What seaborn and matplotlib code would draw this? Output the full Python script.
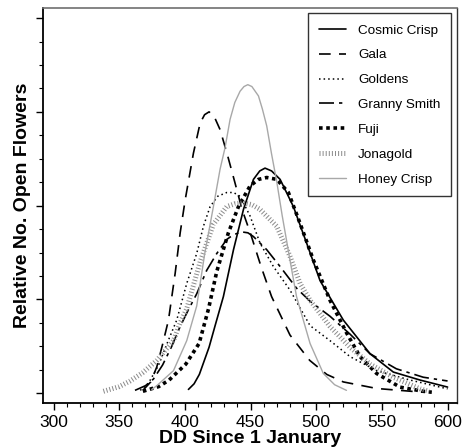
import pandas as pd
import seaborn as sns
import matplotlib.pyplot as plt
from matplotlib.ticker import MultipleLocator

# values (x = degree days, y = relative no. of open flowers)
cosmic_x = [402.7, 407, 411, 418.4, 423, 429.3, 437, 444.6, 452.2, 457, 461, 466, 472.5, 482.6, 492.7, 502.9, 520.6, 541, 558.7, 579, 600]
cosmic_y = [0.04, 0.10, 0.20, 0.49, 0.72, 1.03, 1.53, 1.96, 2.28, 2.37, 2.40, 2.37, 2.28, 1.99, 1.60, 1.20, 0.78, 0.42, 0.225, 0.14, 0.065]

gala_x = [368, 374, 378.6, 383, 387.5, 392.6, 396.4, 400.2, 406.5, 411.6, 415, 418.4, 422, 426.8, 432, 438, 443.5, 450, 458, 466, 480, 495, 508, 520.6, 546, 581]
gala_y = [0.03, 0.12, 0.28, 0.52, 0.78, 1.28, 1.71, 2.06, 2.56, 2.88, 2.97, 3.00, 2.96, 2.81, 2.56, 2.25, 1.96, 1.70, 1.35, 1.03, 0.62, 0.35, 0.20, 0.12, 0.05, 0.01]

goldens_x = [366, 372, 380, 387, 393.8, 401.4, 409, 414.1, 419.2, 425, 431.9, 437, 442, 449.6, 457.2, 467.4, 480, 495.3, 510.5, 525.7, 546, 571.4, 600]
goldens_y = [0.03, 0.10, 0.30, 0.55, 0.78, 1.17, 1.49, 1.78, 1.99, 2.10, 2.14, 2.14, 2.10, 1.89, 1.60, 1.35, 1.10, 0.72, 0.56, 0.39, 0.24, 0.14, 0.046]

granny_x = [362, 370, 376, 383, 390, 396, 402.7, 409, 416.6, 424.3, 431.9, 437, 443.3, 448, 452.2, 462.3, 472.5, 485, 495.3, 510.5, 525.7, 541, 561, 581.5, 600]
granny_y = [0.03, 0.08, 0.15, 0.30, 0.50, 0.70, 0.89, 1.06, 1.31, 1.49, 1.64, 1.69, 1.72, 1.71, 1.67, 1.53, 1.35, 1.12, 0.98, 0.82, 0.63, 0.42, 0.26, 0.17, 0.13]

fuji_x = [368, 380, 388, 400.7, 410.8, 418, 424.3, 433.1, 440.8, 449.6, 456, 462.3, 470, 478.8, 487.7, 497.8, 510.5, 523.2, 533.3, 546, 563.8, 581.5, 588]
fuji_y = [0.02, 0.07, 0.14, 0.31, 0.53, 0.90, 1.30, 1.71, 1.99, 2.21, 2.28, 2.30, 2.28, 2.14, 1.81, 1.42, 0.99, 0.64, 0.39, 0.21, 0.064, 0.02, 0.01]

jonagold_x = [338, 350, 358.3, 368, 378.6, 391.3, 396.4, 401.4, 411.6, 421.7, 431.9, 438, 444.6, 451, 457.2, 469.9, 480, 487.7, 495.3, 510.5, 525.7, 541, 558.7, 579, 586]
jonagold_y = [0.02, 0.07, 0.13, 0.22, 0.35, 0.56, 0.75, 0.90, 1.40, 1.80, 1.99, 2.02, 2.03, 2.01, 1.96, 1.78, 1.46, 1.17, 0.99, 0.71, 0.49, 0.31, 0.17, 0.046, 0.02]

honey_x = [374.8, 378.6, 391.3, 401.4, 409, 415, 421.7, 426.8, 430.6, 434.4, 438, 442, 445, 447.9, 451, 456, 459, 462.3, 466, 470, 474, 480, 485, 495.3, 505.4, 514, 523]
honey_y = [0.04, 0.08, 0.24, 0.56, 0.93, 1.48, 1.99, 2.39, 2.62, 2.92, 3.10, 3.22, 3.27, 3.29, 3.27, 3.17, 3.03, 2.85, 2.55, 2.25, 1.90, 1.42, 1.03, 0.53, 0.21, 0.09, 0.03]

cultivars = ['Cosmic Crisp', 'Gala', 'Goldens', 'Granny Smith', 'Fuji', 'Jonagold', 'Honey Crisp']
curves = {
    'Cosmic Crisp': (cosmic_x, cosmic_y),
    'Gala': (gala_x, gala_y),
    'Goldens': (goldens_x, goldens_y),
    'Granny Smith': (granny_x, granny_y),
    'Fuji': (fuji_x, fuji_y),
    'Jonagold': (jonagold_x, jonagold_y),
    'Honey Crisp': (honey_x, honey_y),
}

# line look for each cultivar: colour, width, dash pattern
styles = {
    'Cosmic Crisp': ('black', 1.2, '-'),
    'Gala': ('black', 1.2, (0, (7, 5))),
    'Goldens': ('black', 1.1, (0, (1, 2))),
    'Granny Smith': ('black', 1.2, (0, (9, 3, 2, 3))),
    'Fuji': ('black', 2.6, (0, (1, 1))),
    'Jonagold': ('#8c8c8c', 3.6, (0, (0.2, 0.42))),
    'Honey Crisp': ('#a8a8a8', 1.0, '-'),
}

sns.set_style('ticks')
plt.rcParams['font.family'] = ['Liberation Sans', 'DejaVu Sans']
plt.rcParams['text.color'] = 'black'
plt.rcParams['axes.labelcolor'] = 'black'
plt.rcParams['xtick.color'] = 'black'
plt.rcParams['ytick.color'] = 'black'

fig = plt.figure(figsize=(4.68, 4.48), dpi=100)
ax = fig.add_axes([0.092, 0.1, 0.884, 0.882])

for name in cultivars:
    xs, ys = curves[name]
    df = pd.DataFrame({'x': xs, 'y': ys})
    color, lw, ls = styles[name]
    sns.lineplot(data=df, x='x', y='y', ax=ax, color=color, linewidth=lw,
                 linestyle=ls, label=name, errorbar=None, sort=False)
    ax.lines[-1].set_dash_capstyle('butt')

ax.set_xlim(292, 607)
ax.set_ylim(-0.107, 4.107)
ax.xaxis.set_major_locator(MultipleLocator(50))
ax.xaxis.set_minor_locator(MultipleLocator(10))
ax.yaxis.set_major_locator(MultipleLocator(1))
ax.yaxis.set_minor_locator(MultipleLocator(0.25))
ax.set_yticklabels([])
ax.tick_params(which='major', direction='out', length=5, width=1, colors='black',
               labelsize=12.5, pad=3.5)
ax.tick_params(which='minor', direction='out', length=3, width=0.8, colors='black')

for side in ['left', 'bottom']:
    ax.spines[side].set_color('black')
    ax.spines[side].set_linewidth(1.3)
ax.spines['top'].set_color('#707070')
ax.spines['top'].set_linewidth(1.2)
ax.spines['right'].set_color('#333333')
ax.spines['right'].set_linewidth(1.0)

ax.set_xlabel('DD Since 1 January', fontsize=14, fontweight='bold', labelpad=0.3, color='black')
ax.set_ylabel('Relative No. Open Flowers', fontsize=14, fontweight='bold', labelpad=0.5, color='black')

leg = ax.legend(loc='upper right', fontsize=9.7, frameon=True, fancybox=False,
                edgecolor='#333333', framealpha=1, handlelength=2.0, handletextpad=0.9,
                labelspacing=0.92, borderpad=0.8, borderaxespad=0.4)
leg.get_frame().set_linewidth(1.0)
for t in leg.get_texts():
    t.set_color('black')

fig.savefig('out.png', dpi=100)
